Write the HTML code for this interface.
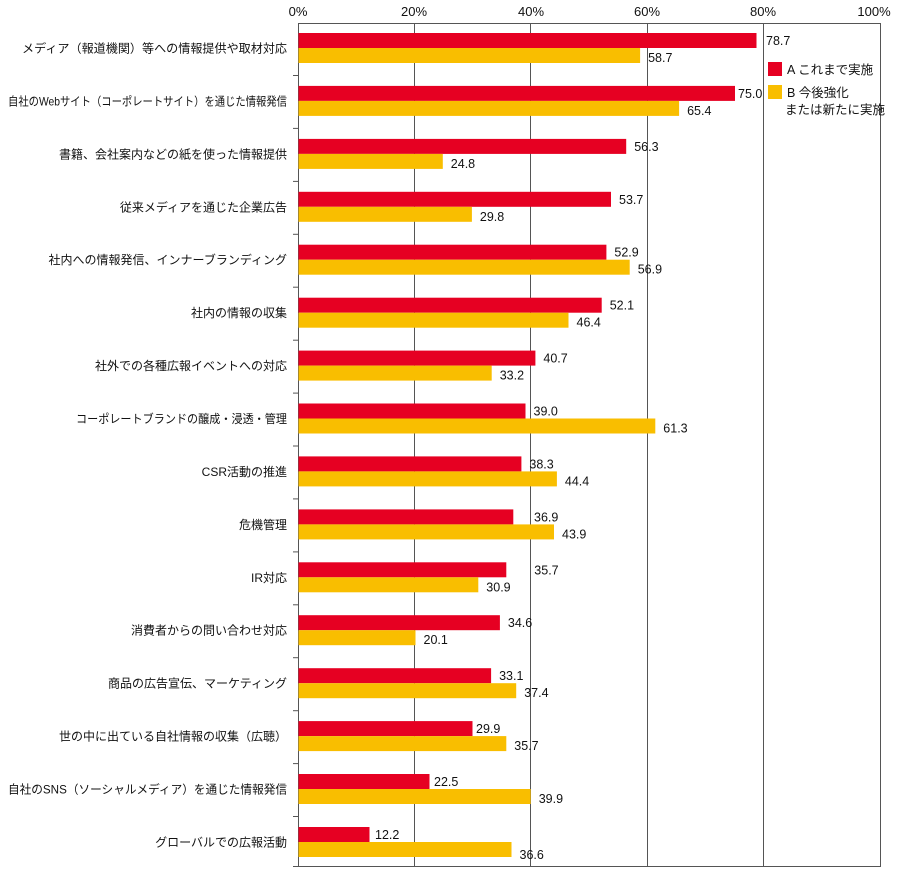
<!DOCTYPE html>
<html><head><meta charset="utf-8"><style>
html,body{margin:0;padding:0;background:#fff;}
svg{display:block;font-family:"Liberation Sans","Noto Sans CJK JP",sans-serif;}
.r{fill:#e60022}.y{fill:#f9be00}
.v{font-size:12.5px;fill:#111}
.c{font-size:12px;fill:#111;text-anchor:end}
</style></head><body>
<svg width="899" height="871" viewBox="0 0 899 871" xmlns="http://www.w3.org/2000/svg">
<g font-size="13" fill="#111" text-anchor="middle">
<text x="298" y="16">0%</text><text x="414" y="16">20%</text><text x="531" y="16">40%</text>
<text x="647" y="16">60%</text><text x="763" y="16">80%</text><text x="874" y="16">100%</text>
</g>
<g stroke="#555" stroke-width="1">
<line x1="298.5" y1="23" x2="298.5" y2="866"/>
<line x1="414.5" y1="23" x2="414.5" y2="866"/>
<line x1="530.5" y1="23" x2="530.5" y2="866"/>
<line x1="647.5" y1="23" x2="647.5" y2="866"/>
<line x1="763.5" y1="23" x2="763.5" y2="866"/>
<line x1="880.5" y1="23" x2="880.5" y2="866"/>
<line x1="298" y1="23.5" x2="881" y2="23.5"/>
<line x1="293" y1="866.5" x2="881" y2="866.5"/>
</g>

<g transform="translate(0,33)"><rect class="r" x="298.5" y="0" width="458" height="15"/><rect class="y" x="298.5" y="15" width="341.6" height="15"/><text class="v" x="766" y="12">78.7</text><text class="v" x="648.1" y="29">58.7</text><text class="c" x="287" y="19.5" textLength="265" lengthAdjust="spacingAndGlyphs">メディア（報道機関）等への情報提供や取材対応</text><line x1="293" x2="298" y1="42.5" y2="42.5" stroke="#555"/></g>
<g transform="translate(0,85.9)"><rect class="r" x="298.5" y="0" width="436.5" height="15"/><rect class="y" x="298.5" y="15" width="380.6" height="15"/><text class="v" x="738" y="12">75.0</text><text class="v" x="687.1" y="29">65.4</text><text class="c" x="287" y="19.5" textLength="279" lengthAdjust="spacingAndGlyphs">自社のWebサイト（コーポレートサイト）を通じた情報発信</text><line x1="293" x2="298" y1="42.5" y2="42.5" stroke="#555"/></g>
<g transform="translate(0,138.9)"><rect class="r" x="298.5" y="0" width="327.7" height="15"/><rect class="y" x="298.5" y="15" width="144.3" height="15"/><text class="v" x="634.2" y="12">56.3</text><text class="v" x="450.8" y="29">24.8</text><text class="c" x="287" y="19.5">書籍、会社案内などの紙を使った情報提供</text><line x1="293" x2="298" y1="42.5" y2="42.5" stroke="#555"/></g>
<g transform="translate(0,191.8)"><rect class="r" x="298.5" y="0" width="312.5" height="15"/><rect class="y" x="298.5" y="15" width="173.4" height="15"/><text class="v" x="619" y="12">53.7</text><text class="v" x="479.9" y="29">29.8</text><text class="c" x="287" y="19.5">従来メディアを通じた企業広告</text><line x1="293" x2="298" y1="42.5" y2="42.5" stroke="#555"/></g>
<g transform="translate(0,244.7)"><rect class="r" x="298.5" y="0" width="307.9" height="15"/><rect class="y" x="298.5" y="15" width="331.2" height="15"/><text class="v" x="614.4" y="12">52.9</text><text class="v" x="637.7" y="29">56.9</text><text class="c" x="287" y="19.5">社内への情報発信、インナーブランディング</text><line x1="293" x2="298" y1="42.5" y2="42.5" stroke="#555"/></g>
<g transform="translate(0,297.7)"><rect class="r" x="298.5" y="0" width="303.2" height="15"/><rect class="y" x="298.5" y="15" width="270" height="15"/><text class="v" x="609.7" y="12">52.1</text><text class="v" x="576.5" y="29">46.4</text><text class="c" x="287" y="19.5">社内の情報の収集</text><line x1="293" x2="298" y1="42.5" y2="42.5" stroke="#555"/></g>
<g transform="translate(0,350.6)"><rect class="r" x="298.5" y="0" width="236.9" height="15"/><rect class="y" x="298.5" y="15" width="193.2" height="15"/><text class="v" x="543.4" y="12">40.7</text><text class="v" x="499.7" y="29">33.2</text><text class="c" x="287" y="19.5">社外での各種広報イベントへの対応</text><line x1="293" x2="298" y1="42.5" y2="42.5" stroke="#555"/></g>
<g transform="translate(0,403.5)"><rect class="r" x="298.5" y="0" width="227" height="15"/><rect class="y" x="298.5" y="15" width="356.8" height="15"/><text class="v" x="533.5" y="12">39.0</text><text class="v" x="663.3" y="29">61.3</text><text class="c" x="287" y="19.5" textLength="211" lengthAdjust="spacingAndGlyphs">コーポレートブランドの醸成・浸透・管理</text><line x1="293" x2="298" y1="42.5" y2="42.5" stroke="#555"/></g>
<g transform="translate(0,456.4)"><rect class="r" x="298.5" y="0" width="222.9" height="15"/><rect class="y" x="298.5" y="15" width="258.4" height="15"/><text class="v" x="529.4" y="12">38.3</text><text class="v" x="564.9" y="29">44.4</text><text class="c" x="287" y="19.5">CSR活動の推進</text><line x1="293" x2="298" y1="42.5" y2="42.5" stroke="#555"/></g>
<g transform="translate(0,509.4)"><rect class="r" x="298.5" y="0" width="214.8" height="15"/><rect class="y" x="298.5" y="15" width="255.5" height="15"/><text class="v" x="534" y="12">36.9</text><text class="v" x="562" y="29">43.9</text><text class="c" x="287" y="19.5">危機管理</text><line x1="293" x2="298" y1="42.5" y2="42.5" stroke="#555"/></g>
<g transform="translate(0,562.3)"><rect class="r" x="298.5" y="0" width="207.8" height="15"/><rect class="y" x="298.5" y="15" width="179.8" height="15"/><text class="v" x="534.3" y="12">35.7</text><text class="v" x="486.3" y="29">30.9</text><text class="c" x="287" y="19.5">IR対応</text><line x1="293" x2="298" y1="42.5" y2="42.5" stroke="#555"/></g>
<g transform="translate(0,615.2)"><rect class="r" x="298.5" y="0" width="201.4" height="15"/><rect class="y" x="298.5" y="15" width="117" height="15"/><text class="v" x="507.9" y="12">34.6</text><text class="v" x="423.5" y="29">20.1</text><text class="c" x="287" y="19.5">消費者からの問い合わせ対応</text><line x1="293" x2="298" y1="42.5" y2="42.5" stroke="#555"/></g>
<g transform="translate(0,668.2)"><rect class="r" x="298.5" y="0" width="192.6" height="15"/><rect class="y" x="298.5" y="15" width="217.7" height="15"/><text class="v" x="499.1" y="12">33.1</text><text class="v" x="524.2" y="29">37.4</text><text class="c" x="287" y="19.5">商品の広告宣伝、マーケティング</text><line x1="293" x2="298" y1="42.5" y2="42.5" stroke="#555"/></g>
<g transform="translate(0,721.1)"><rect class="r" x="298.5" y="0" width="174" height="15"/><rect class="y" x="298.5" y="15" width="207.8" height="15"/><text class="v" x="476" y="12">29.9</text><text class="v" x="514.3" y="29">35.7</text><text class="c" x="287" y="19.5">世の中に出ている自社情報の収集（広聴）</text><line x1="293" x2="298" y1="42.5" y2="42.5" stroke="#555"/></g>
<g transform="translate(0,774)"><rect class="r" x="298.5" y="0" width="131" height="15"/><rect class="y" x="298.5" y="15" width="232.2" height="15"/><text class="v" x="434" y="12">22.5</text><text class="v" x="538.7" y="29">39.9</text><text class="c" x="287" y="19.5" textLength="279" lengthAdjust="spacingAndGlyphs">自社のSNS（ソーシャルメディア）を通じた情報発信</text><line x1="293" x2="298" y1="42.5" y2="42.5" stroke="#555"/></g>
<g transform="translate(0,827)"><rect class="r" x="298.5" y="0" width="71" height="15"/><rect class="y" x="298.5" y="15" width="213" height="15"/><text class="v" x="375" y="12">12.2</text><text class="v" x="519.5" y="32">36.6</text><text class="c" x="287" y="19.5">グローバルでの広報活動</text></g>

<rect x="768" y="62" width="14" height="14" fill="#e60022"/>
<rect x="768" y="85" width="14" height="14" fill="#f9be00"/>
<g font-size="12.5" fill="#111">
<text x="787" y="74">A これまで実施</text>
<text x="787" y="97">B 今後強化</text>
<text x="785" y="114">または新たに実施</text>
</g>
</svg>
</body></html>
